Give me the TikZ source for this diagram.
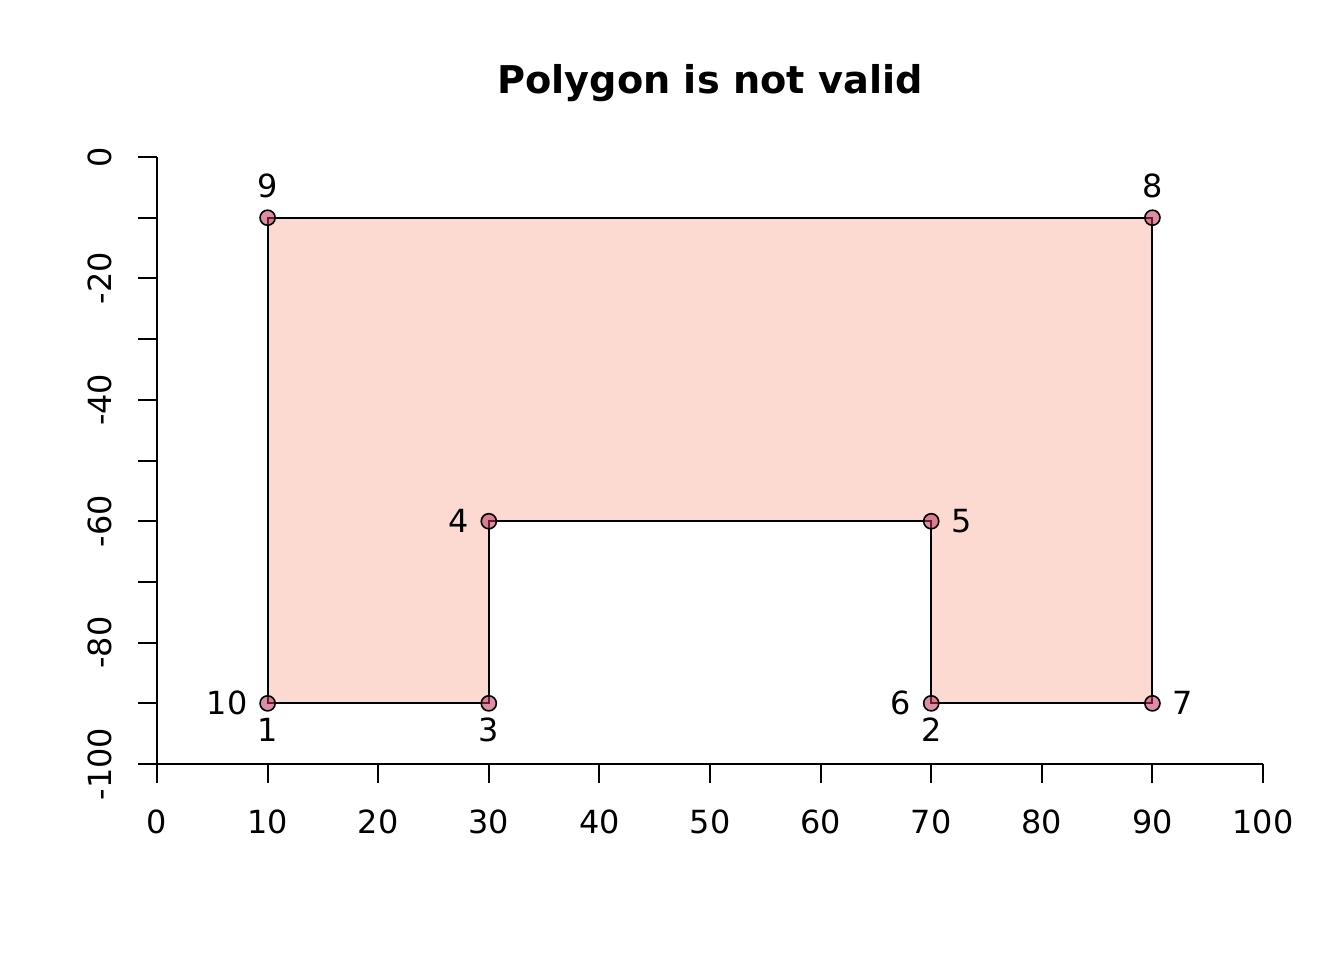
\documentclass[tikz,border=0pt]{standalone}
\usepackage{fontspec}
\setmainfont{DejaVu Sans}
\usetikzlibrary{positioning}
\definecolor{polyfill}{RGB}{252,218,209}
\definecolor{ptfill}{RGB}{190,50,90}

\tikzset{
  vertex/.style={circle, draw=black, line width=0.6pt, fill=ptfill, fill opacity=0.55,
    text opacity=1, inner sep=0pt, minimum size=0.2cm},
  vlab/.style={font=\fontsize{12}{14}\selectfont, inner sep=0pt, label distance=0.15cm,
    fill opacity=1},
  vlabb/.style={vlab, label distance=0.08cm},
  ticklab/.style={font=\fontsize{12}{14}\selectfont, inner sep=0pt},
  axis/.style={line width=0.75pt},
}

\begin{document}
\begin{tikzpicture}[x=0.013229cm, y=-0.013229cm]
  \useasboundingbox (0,0) rectangle (1344,960);
  \node[font=\bfseries\fontsize{14.4}{17}\selectfont] (title) at (710,83) {Polygon is not valid};

  \begin{scope}[shift={(157,157)}, x=0.14632cm, y=0.08030cm]
    % polygon corners
    \coordinate (v1) at (10,-90);
    \coordinate (v3) at (30,-90);
    \coordinate (v4) at (30,-60);
    \coordinate (v5) at (70,-60);
    \coordinate (v2) at (70,-90);
    \coordinate (v7) at (90,-90);
    \coordinate (v8) at (90,-10);
    \coordinate (v9) at (10,-10);
    \filldraw[fill=polyfill, draw=black, line width=0.75pt]
      (v1) -- (v3) -- (v4) -- (v5) -- (v2) -- (v7) -- (v8) -- (v9) -- cycle;

    % axes
    \draw[axis] (0,-100) -- (100,-100);
    \draw[axis] (0,0) -- (0,-100);
    \foreach \i [count=\k] in {0,10,...,100} {
      \draw[axis] (\i,-100) -- ++(0,-0.254cm);
      \node[ticklab] (xlab\k) at ([yshift=-0.767cm]\i,-100) {\i};
    }
    \foreach \j in {0,-10,...,-100}
      \draw[axis] (0,\j) -- ++(-0.254cm,0);
    \foreach \j [count=\k] in {0,-20,...,-100}
      \node[ticklab, rotate=90] (ylab\k) at ([xshift=-0.754cm]0,\j) {\j};

    % vertices
    \node[vertex, label={[vlabb]below:1}, label={[vlab]left:10}] (p1) at (v1) {};
    \node[vertex, label={[vlabb]below:3}] (p3) at (v3) {};
    \node[vertex, label={[vlab]left:4}] (p4) at (v4) {};
    \node[vertex, label={[vlab]right:5}] (p5) at (v5) {};
    \node[vertex, label={[vlabb]below:2}, label={[vlab]left:6}] (p2) at (v2) {};
    \node[vertex, label={[vlab]right:7}] (p7) at (v7) {};
    \node[vertex, label={[vlab]above:8}] (p8) at (v8) {};
    \node[vertex, label={[vlab]above:9}] (p9) at (v9) {};
  \end{scope}
\end{tikzpicture}
\end{document}
